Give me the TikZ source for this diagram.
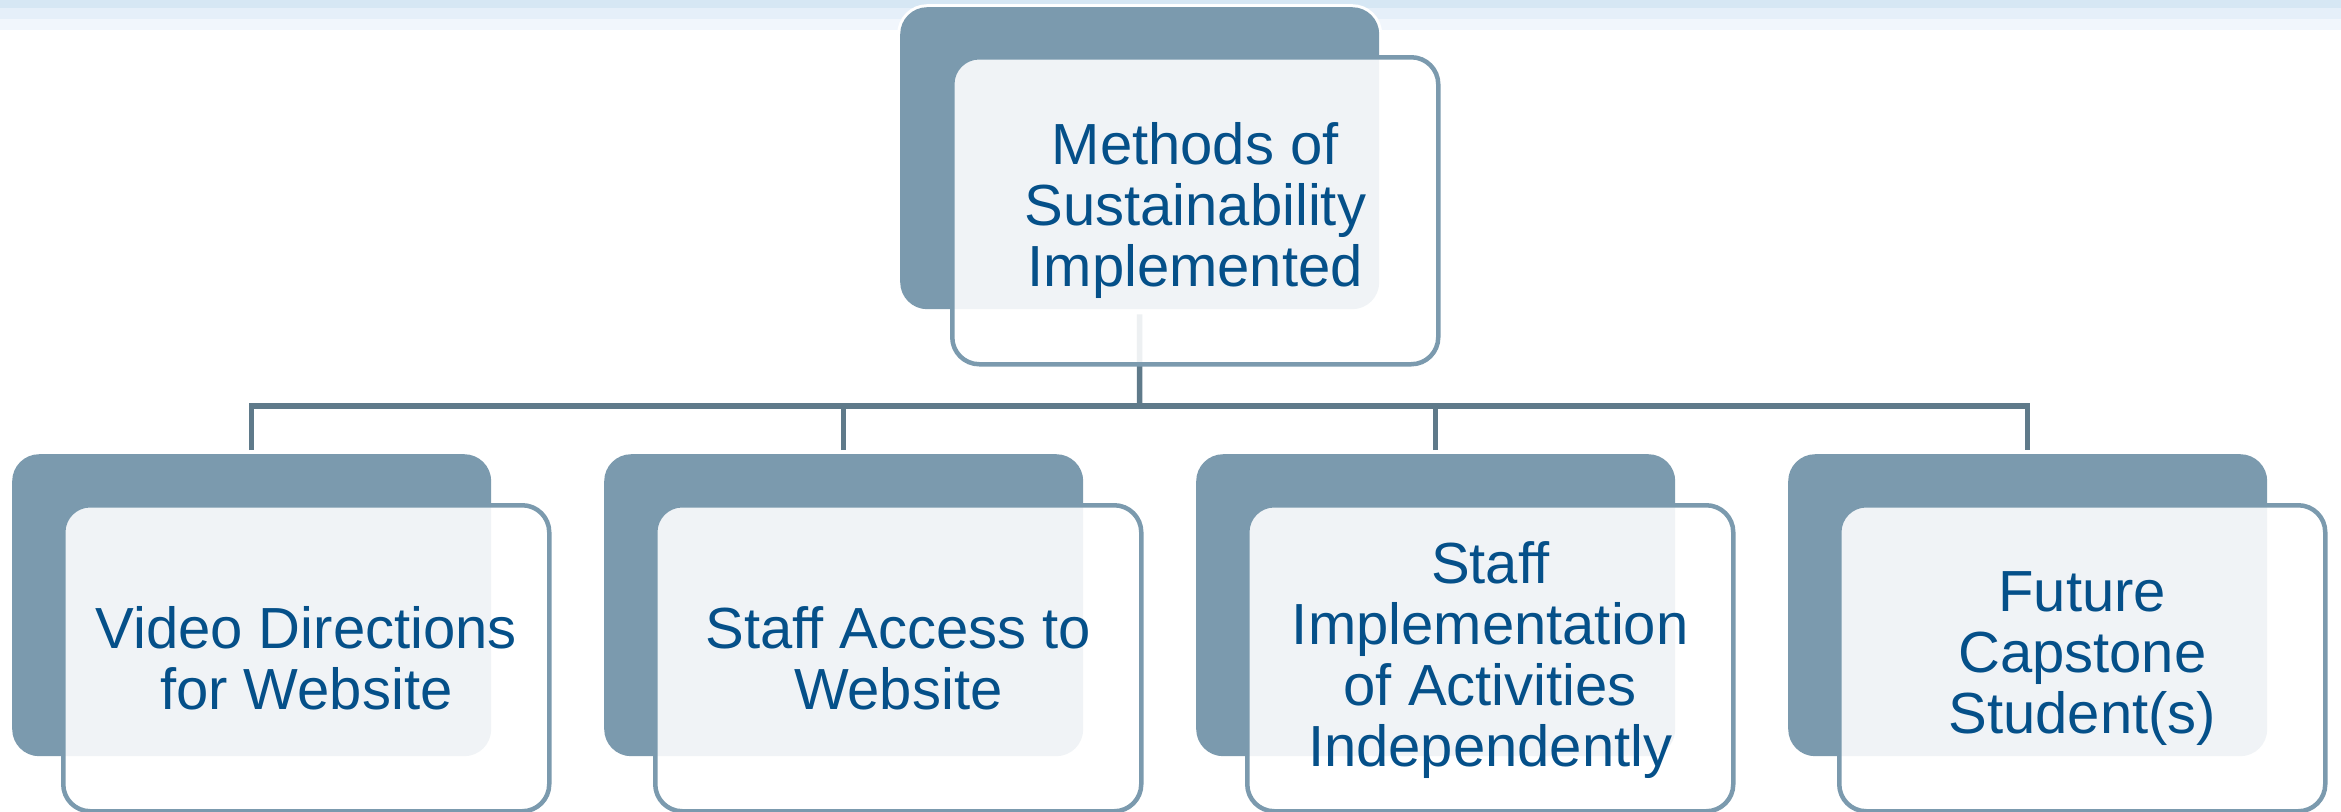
\documentclass[tikz,border=0pt]{standalone}
\usepackage{fontspec}
\setmainfont{Liberation Sans}
\usetikzlibrary{calc}

\definecolor{bandA}{HTML}{D6E7F4}
\definecolor{bandB}{HTML}{E5EFF9}
\definecolor{bandC}{HTML}{F1F6FC}
\definecolor{plate}{HTML}{7B9AAE}
\definecolor{rim}{HTML}{7B9AAE}
\definecolor{wire}{HTML}{5F7A8A}
\definecolor{ink}{RGB}{5,80,137}

\begin{document}
\begin{tikzpicture}[x=1pt,y=-1pt,
  backplate/.style={fill=plate, rounded corners=27pt, minimum width=479pt,
    minimum height=302pt, inner sep=0pt, anchor=north west,
    preaction={draw=white, line width=6pt}},
  card/.style={draw=rim, line width=4.5pt, fill=white, fill opacity=0.89,
    text opacity=1, rounded corners=27pt, minimum width=486pt,
    minimum height=306pt, inner sep=0pt, anchor=north west, align=center,
    text=ink, font=\fontsize{58}{61}\selectfont},
  conn/.style={draw=wire, line width=5.5pt}]

\useasboundingbox (0,0) rectangle (2341,811);

% header bands
\fill[bandA] (0,0) rectangle (2341,8);
\fill[bandB] (0,8) rectangle (2341,19);
\fill[bandC] (0,19) rectangle (2341,30);

% top level
\node[backplate] (dtop) at (900,7) {};
\coordinate (bus) at (1139.5,406);
\draw[conn] ($(dtop.south)+(0,5)$) -- (bus);
\node[card, minimum height=307pt] (ltop) at (950,55)
  {Methods of\\Sustainability\\Implemented};

% child back plates
\node[backplate] (d1) at (12,454) {};
\node[backplate] (d2) at (604,454) {};
\node[backplate] (d3) at (1196,454) {};
\node[backplate] (d4) at (1788,454) {};

% bus and drops
\draw[conn] ($(d1.north)+(0,-4)$) |- (bus) -| ($(d4.north)+(0,-4)$);
\draw[conn] ($(d2.north)+(0,-4)$) -- (d2.north |- bus);
\draw[conn] ($(d3.north)+(0,-4)$) -- (d3.north |- bus);

% child cards
\node[card] (l1) at (61,503) {Video Directions\\for Website};
\node[card] (l2) at (653,503) {Staff Access to\\Website};
\node[card, text depth=8pt] (l3) at (1245,503)
  {Staff\\Implementation\\of Activities\\Independently};
\node[card] (l4) at (1837,503) {Future\\Capstone\\Student(s)};

\end{tikzpicture}
\end{document}
